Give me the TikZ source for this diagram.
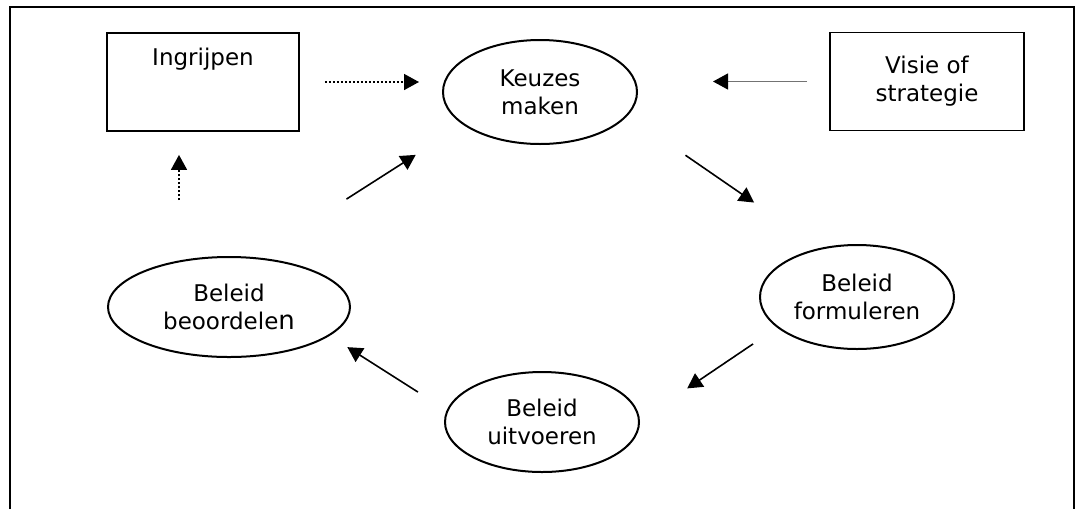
\documentclass[tikz,border=0pt]{standalone}
\usepackage{fontspec}
\setmainfont{DejaVu Sans}
\usetikzlibrary{arrows.meta,shapes.geometric}

\begin{document}
\begin{tikzpicture}[
    x=0.5pt,y=-0.5pt,
    font=\fontsize{11.5}{14}\selectfont,
    box/.style={draw,line width=0.9pt,align=center,minimum width=96pt,minimum height=49pt,inner sep=4pt},
    oval/.style={draw,ellipse,line width=1pt,align=center,inner sep=0pt,minimum width=97pt,minimum height=52pt},
    flow/.style={->,line width=0.8pt},
    dotflow/.style={->,line width=0.8pt,dash pattern=on 1pt off 1pt},
    greyflow/.style={-{Triangle[length=7.5pt,width=8pt,color=black]},line width=0.6pt,draw=black!55},
    >={Triangle[length=7.5pt,width=8pt]}
]
\useasboundingbox (0,0) rectangle (1079,509);
\draw[line width=1pt] (10,509) -- (10,7) -- (1074,7) -- (1074,509);

\node[box,text height=12pt,text depth=29pt] (ingrijpen) at (203,82) {Ingrijpen};
\node[box,minimum width=97pt] (visie) at (927,81.5) {Visie of\\strategie};
\node[oval] (keuzes) at (540,92) {Keuzes\\maken};
\node[oval] (formuleren) at (857,297) {Beleid\\formuleren};
\node[oval,minimum height=50pt] (uitvoeren) at (542,422) {Beleid\\uitvoeren};
\node[oval,minimum width=121pt,minimum height=50pt] (beoordelen) at (229,307) {Beleid\\beoordele{\fontsize{13}{14}\selectfont n}};

\draw[dotflow,shorten <=12.5pt,shorten >=11.5pt] (ingrijpen.east) -- (ingrijpen.east -| keuzes.west);
\draw[greyflow,shorten <=11pt,shorten >=37.5pt] (visie.west) -- (visie.west -| keuzes.east);
\draw[dotflow,shorten <=28pt,shorten >=11.5pt] ([xshift=-12pt]ingrijpen.south |- beoordelen.north) -- ([xshift=-12pt]ingrijpen.south);
\draw[flow,shorten <=54pt,shorten >=28pt] (beoordelen.62) -- (keuzes.203);
\draw[flow,shorten <=35pt,shorten >=40pt] (keuzes.345) -- (formuleren.127);
\draw[flow,shorten <=14.5pt,shorten >=28.5pt] (formuleren.201) -- (uitvoeren.1);
\draw[flow,shorten <=17pt,shorten >=10.5pt] (uitvoeren.173) -- (beoordelen.344);
\end{tikzpicture}
\end{document}
